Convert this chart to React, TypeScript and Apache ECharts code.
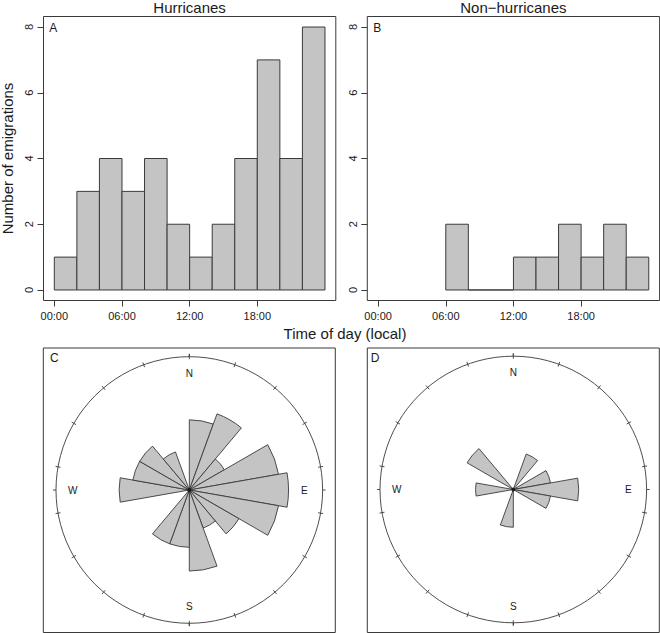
import React, { useEffect, useRef } from 'react';
import * as echarts from 'echarts';

// ---- data ----
const binStartHours = [0, 2, 4, 6, 8, 10, 12, 14, 16, 18, 20, 22];
const binWidthHours = 2;
const hurricaneCounts = [1, 3, 4, 3, 4, 2, 1, 2, 4, 7, 4, 8];
const nonHurricaneCounts: (number | null)[] = [null, null, null, 2, 0, 0, 1, 1, 2, 1, 2, 1];
const timeTicks = [0, 6, 12, 18];
const timeTickLabels = ['00:00', '06:00', '12:00', '18:00'];
const countTicks = [0, 2, 4, 6, 8];

const directionBins = ['0', '20', '40', '60', '80', '100', '120', '140', '160', '180', '200', '220', '240', '260', '280', '300', '320', '340'];
const hurricaneDirCounts = [3, 4, 1, 5, 6, 5, 2, 1, 4, 2, 2, 0, 0, 3, 2, 2, 1, 0];
const nonHurricaneDirCounts = [0, 1, 0, 1, 3, 1, 0, 0, 0, 1, 0, 0, 0, 1, 0, 2, 0, 0];
const compassLabels = ['N', 'E', 'S', 'W'];

const FONT = '"Liberation Sans", Arial, Helvetica, sans-serif';
const FILL = '#c4c4c4';
const STROKE = '#3a3a3a';
const TEXT = '#1a1a1a';

const histGrid = (left: number) => ({ left, top: 16.5, width: 292.3, height: 284, show: true, borderColor: STROKE, borderWidth: 1, backgroundColor: 'transparent' });

const xAxisFor = (gridIndex: number) => ({
  type: 'value', gridIndex, min: -0.96, max: 24.96, position: 'bottom',
  axisLine: { show: false, onZero: false },
  splitLine: { show: false },
  axisTick: { show: true, inside: false, customValues: timeTicks, length: 6, lineStyle: { color: STROKE, width: 1 } },
  axisLabel: {
    customValues: timeTicks, margin: 9.5, fontSize: 11, color: TEXT, fontFamily: FONT,
    formatter: (v: number) => { const i = timeTicks.indexOf(v); return i >= 0 ? timeTickLabels[i] : ''; },
  },
});

const yAxisFor = (gridIndex: number) => ({
  type: 'value', gridIndex, min: -0.32, max: 8.32, position: 'left',
  axisLine: { show: false, onZero: false },
  splitLine: { show: false },
  axisTick: { show: true, inside: false, customValues: countTicks, length: 6, lineStyle: { color: STROKE, width: 1 } },
  axisLabel: { customValues: countTicks, rotate: 90, margin: 9, fontSize: 11, color: TEXT, fontFamily: FONT },
});

const histSeries = (gridIndex: number, counts: (number | null)[]) => ({
  type: 'custom', xAxisIndex: gridIndex, yAxisIndex: gridIndex,
  data: counts.map((c, i) => (c === null ? null : [binStartHours[i], binStartHours[i] + binWidthHours, c])).filter((d) => d !== null),
  encode: { x: [0, 1], y: 2 },
  renderItem: (_p: any, api: any) => {
    const p0 = api.coord([api.value(0), api.value(2)]);
    const p1 = api.coord([api.value(1), 0]);
    return {
      type: 'rect',
      shape: { x: p0[0], y: p0[1], width: p1[0] - p0[0], height: p1[1] - p0[1] },
      style: { fill: FILL, stroke: STROKE, lineWidth: 1 },
    };
  },
});

const R = 133.3;
const centerC = [189.3, 490];
const centerD = [513.3, 489.5];

const makePolars = (center: number[]) => [
  { center, radius: [0, R] },
  { center, radius: [0, R] },
  { center, radius: [0, R] },
];

const binAngleAxis = (polarIndex: number, showLine: boolean, inside: boolean) => ({
  polarIndex, type: 'category', data: directionBins, startAngle: 90, clockwise: true,
  axisLine: { show: showLine, lineStyle: { color: STROKE, width: 0.9 } },
  axisTick: { show: true, interval: 0, inside, length: 2.5, lineStyle: { color: STROKE, width: 0.9 } },
  axisLabel: { show: false },
  splitLine: { show: false },
  splitArea: { show: false },
});

const compassAngleAxis = (polarIndex: number) => ({
  polarIndex, type: 'category', data: compassLabels, startAngle: 135, clockwise: true,
  axisLine: { show: false },
  axisTick: { show: true, interval: 0, alignWithLabel: true, length: 3, lineStyle: { color: STROKE, width: 0.9 } },
  axisLabel: { show: true, interval: 0, margin: -21.5, fontSize: 10, color: TEXT, fontFamily: FONT },
  splitLine: { show: false },
  splitArea: { show: false },
});

const radiusAxisFor = (polarIndex: number, max: number) => ({
  polarIndex, type: 'value', min: 0, max, show: false,
  axisLine: { show: false }, axisTick: { show: false }, axisLabel: { show: false }, splitLine: { show: false },
});

const roseSeries = (polarIndex: number, counts: number[]) => ({
  type: 'bar', coordinateSystem: 'polar', polarIndex,
  barCategoryGap: '0%', barGap: '0%',
  data: counts.map((c) => (c > 0 ? Math.sqrt(c) : '-')),
  itemStyle: { color: FILL, borderColor: STROKE, borderWidth: 0.9 },
  silent: true,
});

const centerDot = (polarIndex: number) => ({
  type: 'scatter', coordinateSystem: 'polar', polarIndex,
  data: [[0, 0]], symbolSize: 4, itemStyle: { color: '#111' }, silent: true, z: 5,
});

const txt = (text: string, x: number, y: number, size: number, align = 'center', rotation = 0) => ({
  type: 'text', x, y, rotation,
  style: { text, fill: TEXT, fontSize: size, fontFamily: FONT, textAlign: align, textVerticalAlign: 'middle' },
  z: 10,
});

export default function App() {
  const ref = useRef<HTMLDivElement>(null);
  useEffect(() => {
    document.body.style.margin = '0';
    if (!ref.current) return;
    const chart = echarts.init(ref.current, undefined, { renderer: 'svg' });
    const option: any = {
      animation: false,
      backgroundColor: '#ffffff',
      textStyle: { fontFamily: FONT },
      grid: [histGrid(43.5), histGrid(367.3)],
      xAxis: [xAxisFor(0), xAxisFor(1)],
      yAxis: [yAxisFor(0), yAxisFor(1)],
      polar: [...makePolars(centerC), ...makePolars(centerD)],
      angleAxis: [
        binAngleAxis(0, true, true), binAngleAxis(1, false, false), compassAngleAxis(2),
        binAngleAxis(3, true, true), binAngleAxis(4, false, false), compassAngleAxis(5),
      ],
      radiusAxis: [
        radiusAxisFor(0, 3.29), radiusAxisFor(1, 1), radiusAxisFor(2, 1),
        radiusAxisFor(3, 3.53), radiusAxisFor(4, 1), radiusAxisFor(5, 1),
      ],
      series: [
        histSeries(0, hurricaneCounts),
        histSeries(1, nonHurricaneCounts),
        roseSeries(0, hurricaneDirCounts),
        roseSeries(3, nonHurricaneDirCounts),
        centerDot(0),
        centerDot(3),
      ],
      graphic: [
        txt('Hurricanes', 189.6, 7.5, 15),
        txt('Non\u2212hurricanes', 513.4, 7.5, 15),
        txt('Number of emigrations', 7.5, 158.5, 15, 'center', Math.PI / 2),
        txt('Time of day (local)', 345, 333, 15),
        txt('A', 49.3, 27.5, 12, 'left'),
        txt('B', 373.3, 27.5, 12, 'left'),
        txt('C', 50, 358, 12, 'left'),
        txt('D', 370.7, 358, 12, 'left'),
        { type: 'rect', shape: { x: 43.3, y: 348, width: 292, height: 284.5 }, style: { fill: 'none', stroke: STROKE, lineWidth: 1 }, z: 1 },
        { type: 'rect', shape: { x: 367.3, y: 348, width: 292, height: 284.5 }, style: { fill: 'none', stroke: STROKE, lineWidth: 1 }, z: 1 },
      ],
    };
    chart.setOption(option);
    return () => chart.dispose();
  }, []);
  return <div ref={ref} style={{ width: 660, height: 633 }} />;
}
